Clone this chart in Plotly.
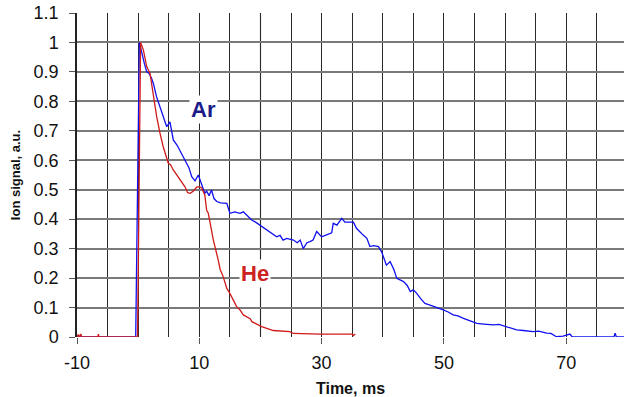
import plotly.graph_objects as go

# ---- data ----
ar_t = [-10, -0.4, 0.2, 0.58, 1.0, 1.4, 1.8, 2.2, 2.5, 3.0, 3.4, 3.85, 4.3, 4.67, 5.2, 5.75, 6.4, 7.1,
        7.9, 8.3, 8.76, 9.3, 9.84, 10.1, 10.65, 10.9, 11.2, 11.6, 12.0, 12.4, 12.85, 13.5, 14.5, 15.0,
        15.8, 16.65, 17.2, 17.75, 18.57, 19.2, 19.9, 20.4, 21.0, 21.8, 22.65, 23.2, 23.7, 24.3, 25.4,
        26.0, 26.5, 27.0, 27.6, 28.1, 28.6, 29.2, 30.0, 30.6, 31.65, 31.9, 32.5, 33.3, 33.8, 34.6, 35.2,
        35.7, 36.2, 36.8, 37.4, 37.9, 38.5, 39.3, 39.8, 40.6, 41.2, 41.8, 42.3, 43.4, 44.0, 44.5, 45.0,
        45.55, 46.2, 46.9, 47.5, 48.3, 49.1, 49.9, 50.7, 51.5, 52.3, 53.2, 54.2, 55.4, 56.5, 58.1, 59.0,
        60.3, 61.0, 61.9, 63.0, 64.6, 65.5, 66.8, 67.5, 68.4, 69.5, 70.6, 71.0, 73.9, 77.8, 78.0, 78.2,
        79.5]
ar_v = [0, 0, 1.0, 0.963, 0.93, 0.90, 0.895, 0.878, 0.86, 0.816, 0.79, 0.76, 0.735, 0.714, 0.73, 0.669,
        0.65, 0.624, 0.59, 0.575, 0.544, 0.53, 0.55, 0.533, 0.499, 0.488, 0.495, 0.48, 0.499, 0.47, 0.46,
        0.455, 0.454, 0.42, 0.425, 0.42, 0.425, 0.414, 0.397, 0.39, 0.38, 0.37, 0.363, 0.35, 0.34, 0.345,
        0.329, 0.335, 0.329, 0.32, 0.329, 0.30, 0.32, 0.324, 0.329, 0.358, 0.34, 0.345, 0.354, 0.386,
        0.38, 0.403, 0.39, 0.39, 0.39, 0.369, 0.36, 0.346, 0.335, 0.307, 0.31, 0.307, 0.29, 0.244, 0.256,
        0.23, 0.199, 0.188, 0.175, 0.154, 0.16, 0.148, 0.13, 0.114, 0.11, 0.103, 0.098, 0.092, 0.085,
        0.075, 0.072, 0.063, 0.055, 0.046, 0.044, 0.041, 0.043, 0.035, 0.03, 0.024, 0.022, 0.018, 0.02,
        0.013, 0.012, 0.001, 0.003, 0.01, 0, 0, 0, 0.013, 0, 0]

he_t = [-10, -9.8, -9.6, -9.4, -9.2, -6.6, -6.5, -6.4, -0.1, 0.4, 0.85, 1.4, 1.94, 2.48, 3.03, 3.57,
        4.1, 4.93, 5.3, 5.75, 6.3, 6.84, 7.66, 8.1, 8.5, 9.0, 9.6, 10.1, 10.4, 10.9, 11.2, 11.47, 12.3,
        13.1, 13.4, 13.9, 14.5, 15.0, 16.1, 16.65, 17.2, 18.3, 18.6, 20.2, 21.0, 22.1, 24.8, 25.4, 29.7,
        35.0, 35.2, 35.5]
he_v = [0, 0.008, 0, 0.01, 0, 0, 0.01, 0, 0, 1.0, 0.975, 0.918, 0.895, 0.816, 0.748, 0.692, 0.646,
        0.59, 0.585, 0.567, 0.55, 0.533, 0.51, 0.49, 0.488, 0.495, 0.51, 0.51, 0.505, 0.482, 0.43, 0.42,
        0.329, 0.261, 0.23, 0.205, 0.165, 0.148, 0.103, 0.092, 0.075, 0.062, 0.052, 0.035, 0.03, 0.022,
        0.018, 0.012, 0.01, 0.01, 0.005, 0.01]

x_tick_vals = [-10, 10, 30, 50, 70]
x_tick_text = ["-10", "10", "30", "50", "70"]
y_tick_vals = [0, 0.1, 0.2, 0.3, 0.4, 0.5, 0.6, 0.7, 0.8, 0.9, 1.0, 1.1]
y_tick_text = ["0", "0.1", "0.2", "0.3", "0.4", "0.5", "0.6", "0.7", "0.8", "0.9", "1", "1.1"]

FONT = "Liberation Sans, Arial, sans-serif"
TXT = "#111111"

fig = go.Figure()
fig.add_trace(go.Scatter(x=ar_t, y=ar_v, mode="lines", name="Ar",
                         line=dict(color="#1010f0", width=1.3)))
fig.add_trace(go.Scatter(x=he_t, y=he_v, mode="lines", name="He",
                         line=dict(color="#d01a1a", width=1.3)))

fig.add_annotation(x=10.65, y=0.771, text="<b>Ar</b>", showarrow=False,
                   font=dict(family=FONT, size=22, color="#1c1c88"), bgcolor="white", borderpad=1)
fig.add_annotation(x=19.16, y=0.217, text="<b>He</b>", showarrow=False,
                   font=dict(family=FONT, size=22, color="#cc2222"), bgcolor="white", borderpad=1)

# faint grid lines as in the reference
for yv in (0.8, 0.9):
    fig.add_shape(type="line", xref="x", yref="y", x0=-10, x1=79.45, y0=yv, y1=yv,
                  line=dict(color="#ececec", width=2), layer="below")
fig.add_shape(type="line", xref="x", yref="y", x0=20, x1=20, y0=0, y1=1.1,
              line=dict(color="#e4e4e4", width=2), layer="below")

fig.update_layout(
    width=624, height=397,
    margin=dict(l=77, r=0, t=13, b=60),
    paper_bgcolor="white", plot_bgcolor="white",
    showlegend=False,
    font=dict(family=FONT, color=TXT),
    xaxis=dict(range=[-10, 79.45], tickvals=x_tick_vals, ticktext=x_tick_text,
               showgrid=True, gridcolor="#2a2a2a", gridwidth=1.3,
               minor=dict(dtick=5, tick0=-10, showgrid=True, gridcolor="#2a2a2a", gridwidth=1.3),
               ticks="outside", ticklen=6, tickcolor="#555555",
               showline=False, zeroline=False, ticklabelstandoff=3,
               tickfont=dict(size=18, family=FONT, color=TXT),
               title=dict(text="<b>Time, ms</b>", font=dict(size=16, family=FONT, color=TXT),
                          standoff=12)),
    yaxis=dict(range=[0, 1.1], tickvals=y_tick_vals, ticktext=y_tick_text,
               showgrid=True, gridcolor="#7a7a7a", gridwidth=1.8,
               ticks="outside", ticklen=6, tickcolor="#555555",
               showline=True, linecolor="#222222", linewidth=1.5,
               zeroline=False, ticklabelstandoff=7,
               tickfont=dict(size=18, family=FONT, color=TXT),
               title=dict(text="<b>Ion signal, a.u.</b>", font=dict(size=13, family=FONT, color=TXT),
                          standoff=10)),
)

fig.write_html("out.html")
